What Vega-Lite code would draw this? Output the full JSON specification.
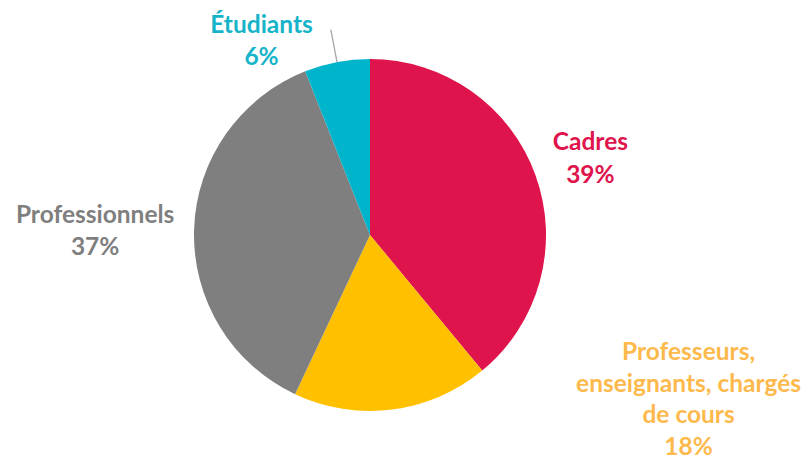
{
  "$schema": "https://vega.github.io/schema/vega-lite/v6.json",
  "width": 740,
  "height": 440,
  "padding": {"left": 0, "top": 15, "right": 70, "bottom": 4},
  "autosize": {"type": "none"},
  "background": "white",
  "config": {"view": {"stroke": null}},
  "data": {
    "values": [
      {"categorie": "Cadres", "libelle": "Cadres", "valeur": 39, "ordre": 1},
      {"categorie": "Professeurs", "libelle": "Professeurs,\nenseignants, chargés\nde cours", "valeur": 18, "ordre": 2},
      {"categorie": "Professionnels", "libelle": "Professionnels", "valeur": 37, "ordre": 3},
      {"categorie": "Étudiants", "libelle": "Étudiants", "valeur": 6, "ordre": 4}
    ]
  },
  "transform": [
    {"stack": "valeur", "groupby": [], "sort": [{"field": "ordre", "order": "ascending"}], "as": ["t0", "t1"]},
    {"calculate": "(datum.t0 + datum.t1) / 2", "as": "mid"},
    {"calculate": "datum.libelle + '\\n' + datum.valeur + '%'", "as": "texte"}
  ],
  "layer": [
    {
      "mark": {"type": "arc", "outerRadius": 176},
      "encoding": {
        "theta": {"field": "t0", "type": "quantitative", "stack": null, "scale": {"domain": [0, 100]}},
        "theta2": {"field": "t1"},
        "color": {
          "field": "categorie", "type": "nominal", "legend": null,
          "scale": {"domain": ["Cadres", "Professeurs", "Professionnels", "Étudiants"], "range": ["#E0144C", "#FFC000", "#7F7F7F", "#00B4CC"]}
        }
      }
    },
    {
      "transform": [{"filter": "datum.categorie == 'Étudiants'"}],
      "mark": {"type": "arc", "radius": 209, "radius2": 176, "stroke": "#A6A6A6", "strokeWidth": 1.3, "fill": null},
      "encoding": {
        "theta": {"field": "mid", "type": "quantitative", "stack": null, "scale": {"domain": [0, 100]}},
        "theta2": {"field": "mid"}
      }
    },
    {
      "transform": [{"filter": "datum.categorie == 'Cadres'"}],
      "mark": {"type": "text", "radius": 230, "dx": 4, "dy": -14, "font": "Lato", "fontSize": 24.5, "fontWeight": "bold", "lineBreak": "\n", "lineHeight": 33, "align": "center", "baseline": "middle", "color": "#E0144C"},
      "encoding": {
        "theta": {"field": "mid", "type": "quantitative", "stack": null, "scale": {"domain": [0, 100]}},
        "text": {"field": "texte"}
      }
    },
    {
      "transform": [{"filter": "datum.categorie == 'Professeurs'"}],
      "mark": {"type": "text", "radius": 260, "dx": 286, "dy": -140, "font": "Lato", "fontSize": 24.5, "fontWeight": "bold", "lineBreak": "\n", "lineHeight": 31.7, "align": "center", "baseline": "middle", "color": "#FDB94C"},
      "encoding": {
        "theta": {"field": "mid", "type": "quantitative", "stack": null, "scale": {"domain": [0, 100]}},
        "text": {"field": "texte"}
      }
    },
    {
      "transform": [{"filter": "datum.categorie == 'Professionnels'"}],
      "mark": {"type": "text", "radius": 275, "dx": 0, "dy": -10, "font": "Lato", "fontSize": 24.5, "fontWeight": "bold", "lineBreak": "\n", "lineHeight": 32, "align": "center", "baseline": "middle", "color": "#7F7F7F"},
      "encoding": {
        "theta": {"field": "mid", "type": "quantitative", "stack": null, "scale": {"domain": [0, 100]}},
        "text": {"field": "texte"}
      }
    },
    {
      "transform": [{"filter": "datum.categorie == 'Étudiants'"}],
      "mark": {"type": "text", "radius": 200, "dx": -71, "dy": -13, "font": "Lato", "fontSize": 24.5, "fontWeight": "bold", "lineBreak": "\n", "lineHeight": 32, "align": "center", "baseline": "middle", "color": "#17B4C9"},
      "encoding": {
        "theta": {"field": "mid", "type": "quantitative", "stack": null, "scale": {"domain": [0, 100]}},
        "text": {"field": "texte"}
      }
    }
  ]
}
